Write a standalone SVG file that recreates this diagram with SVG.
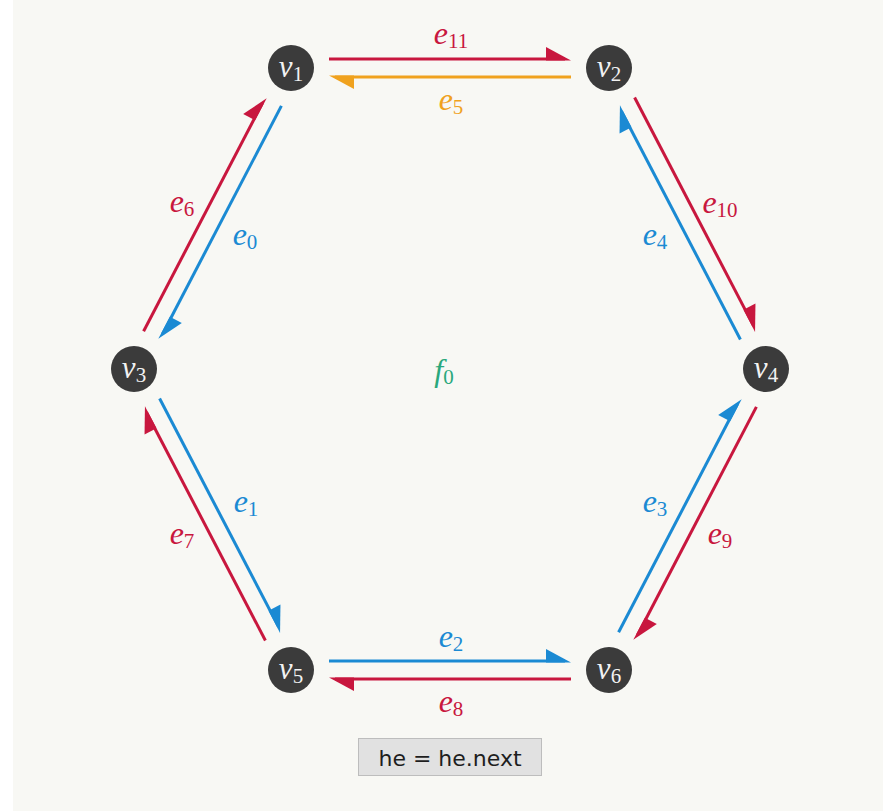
<svg xmlns="http://www.w3.org/2000/svg" width="883" height="811" viewBox="0 0 883 811">
<style>
.e{fill:none;stroke-width:3}
.red{stroke:#c8173e}
.blue{stroke:#1b8ad3}
.orange{stroke:#f0a21e}
.lbl{font-family:"Liberation Serif",serif;font-size:32px;font-style:italic;text-anchor:middle}
.sub{font-size:21px;font-style:normal}
.nd{fill:#3b3b3b}
.nl{font-family:"Liberation Serif",serif;font-size:31px;font-style:italic;fill:#f2f2f2;text-anchor:middle}
</style>
<defs>
<marker id="mr" markerUnits="userSpaceOnUse" viewBox="-20 -13 27 16" markerWidth="27" markerHeight="16" refX="0" refY="0" orient="auto"><path d="M6,1.5 L-19,1.5 L-19,-12 Z" fill="#c8173e"/></marker>
<marker id="mb" markerUnits="userSpaceOnUse" viewBox="-20 -13 27 16" markerWidth="27" markerHeight="16" refX="0" refY="0" orient="auto"><path d="M6,1.5 L-19,1.5 L-19,-12 Z" fill="#1b8ad3"/></marker>
<marker id="mo" markerUnits="userSpaceOnUse" viewBox="-20 -13 27 16" markerWidth="27" markerHeight="16" refX="0" refY="0" orient="auto"><path d="M6,1.5 L-19,1.5 L-19,-12 Z" fill="#f0a21e"/></marker>
</defs>
<rect x="0" y="0" width="883" height="811" fill="#ffffff"/>
<rect x="13" y="0" width="870" height="811" fill="#f8f8f4"/>
<g id="connectors">
<path id="e11" class="e red" d="M329,59 L565,59" marker-end="url(#mr)"/>
<path id="e5" class="e orange" d="M571,77 L335,77" marker-end="url(#mo)"/>
<path id="e2" class="e blue" d="M329,661 L565,661" marker-end="url(#mb)"/>
<path id="e8" class="e red" d="M571,679 L335,679" marker-end="url(#mr)"/>
<path id="e6" class="e red" d="M143.6,331.2 L262.6,102.8" marker-end="url(#mr)"/>
<path id="e0" class="e blue" d="M281.4,105.9 L162.4,334.2" marker-end="url(#mb)"/>
<path id="e1" class="e blue" d="M159.6,398.5 L278.6,626.9" marker-end="url(#mb)"/>
<path id="e7" class="e red" d="M265.4,640.5 L146.4,412.2" marker-end="url(#mr)"/>
<path id="e3" class="e blue" d="M618.6,632.2 L737.6,403.8" marker-end="url(#mb)"/>
<path id="e9" class="e red" d="M756.4,406.9 L637.4,635.2" marker-end="url(#mr)"/>
<path id="e10" class="e red" d="M634.6,97.5 L753.6,325.9" marker-end="url(#mr)"/>
<path id="e4" class="e blue" d="M740.4,339.5 L621.4,111.2" marker-end="url(#mb)"/>
</g>
<g id="edge-labels">
<text class="lbl" x="451" y="44" fill="#c8173e">e<tspan class="sub" dy="4">11</tspan></text>
<text class="lbl" x="451" y="110" fill="#f0a21e">e<tspan class="sub" dy="4">5</tspan></text>
<text class="lbl" x="451" y="647" fill="#1b8ad3">e<tspan class="sub" dy="4">2</tspan></text>
<text class="lbl" x="451" y="712" fill="#c8173e">e<tspan class="sub" dy="4">8</tspan></text>
<text class="lbl" x="182" y="212" fill="#c8173e">e<tspan class="sub" dy="4">6</tspan></text>
<text class="lbl" x="245" y="245" fill="#1b8ad3">e<tspan class="sub" dy="4">0</tspan></text>
<text class="lbl" x="246" y="512" fill="#1b8ad3">e<tspan class="sub" dy="4">1</tspan></text>
<text class="lbl" x="182" y="544" fill="#c8173e">e<tspan class="sub" dy="4">7</tspan></text>
<text class="lbl" x="720" y="213" fill="#c8173e">e<tspan class="sub" dy="4">10</tspan></text>
<text class="lbl" x="655" y="245" fill="#1b8ad3">e<tspan class="sub" dy="4">4</tspan></text>
<text class="lbl" x="655" y="512" fill="#1b8ad3">e<tspan class="sub" dy="4">3</tspan></text>
<text class="lbl" x="720" y="544" fill="#c8173e">e<tspan class="sub" dy="4">9</tspan></text>
</g>
<g id="f0"><text class="lbl" x="444" y="381" fill="#2aa87c">f<tspan class="sub" dy="3">0</tspan></text></g>
<g id="v1"><circle class="nd" cx="291" cy="68" r="23"/><text class="nl" x="291" y="77">v<tspan class="sub" dy="4">1</tspan></text></g>
<g id="v2"><circle class="nd" cx="609" cy="68" r="23"/><text class="nl" x="609" y="77">v<tspan class="sub" dy="4">2</tspan></text></g>
<g id="v3"><circle class="nd" cx="134" cy="369" r="23"/><text class="nl" x="134" y="378">v<tspan class="sub" dy="4">3</tspan></text></g>
<g id="v4"><circle class="nd" cx="766" cy="369" r="23"/><text class="nl" x="766" y="378">v<tspan class="sub" dy="4">4</tspan></text></g>
<g id="v5"><circle class="nd" cx="291" cy="670" r="23"/><text class="nl" x="291" y="679">v<tspan class="sub" dy="4">5</tspan></text></g>
<g id="v6"><circle class="nd" cx="609" cy="670" r="23"/><text class="nl" x="609" y="679">v<tspan class="sub" dy="4">6</tspan></text></g>
<g id="button">
<rect x="358.5" y="738.5" width="183" height="37" fill="#e1e1e1" stroke="#bdbdbd" stroke-width="1"/>
<text x="450" y="766" font-family="'DejaVu Sans',sans-serif" font-size="22" fill="#1e1e1e" text-anchor="middle">he = he.next</text>
</g>
</svg>
